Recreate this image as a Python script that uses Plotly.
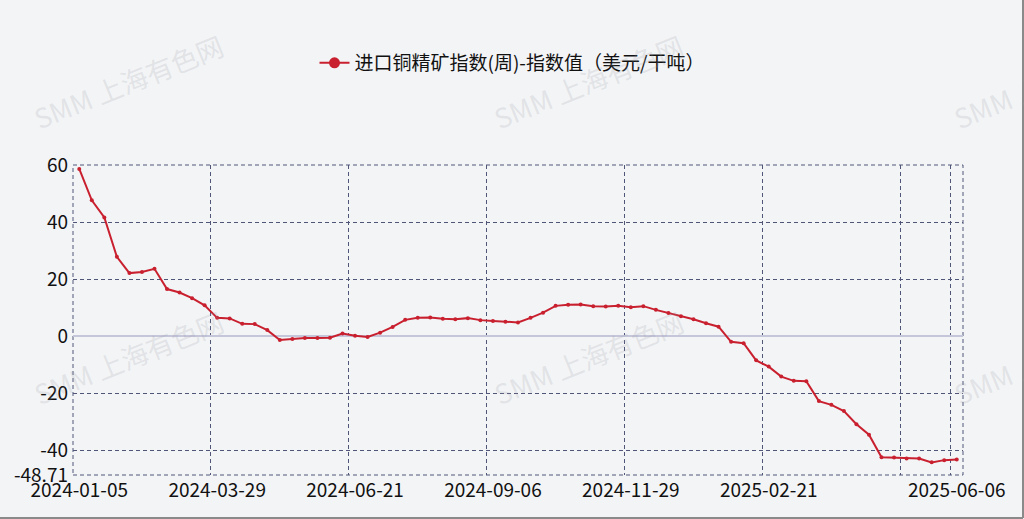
import plotly.graph_objects as go

# ---------------- data ----------------
dates = [
    "2024-01-05", "2024-01-12", "2024-01-19", "2024-01-26", "2024-02-02", "2024-02-09",
    "2024-02-23", "2024-03-01", "2024-03-08", "2024-03-15", "2024-03-22", "2024-03-29",
    "2024-04-05", "2024-04-12", "2024-04-19", "2024-04-26", "2024-05-10", "2024-05-17",
    "2024-05-24", "2024-05-31", "2024-06-07", "2024-06-14", "2024-06-21", "2024-06-28",
    "2024-07-05", "2024-07-12", "2024-07-19", "2024-07-26", "2024-08-02", "2024-08-09",
    "2024-08-16", "2024-08-23", "2024-08-30", "2024-09-06", "2024-09-13", "2024-09-20",
    "2024-09-27", "2024-10-11", "2024-10-18", "2024-10-25", "2024-11-01", "2024-11-08",
    "2024-11-15", "2024-11-22", "2024-11-29", "2024-12-06", "2024-12-13", "2024-12-20",
    "2024-12-27", "2025-01-03", "2025-01-10", "2025-01-17", "2025-01-24", "2025-02-07",
    "2025-02-14", "2025-02-21", "2025-02-28", "2025-03-07", "2025-03-14", "2025-03-21",
    "2025-03-28", "2025-04-04", "2025-04-11", "2025-04-18", "2025-04-25", "2025-05-02",
    "2025-05-09", "2025-05-16", "2025-05-23", "2025-05-30", "2025-06-06",
]
values = [
    58.6, 47.6, 41.6, 27.8, 22.1, 22.5, 23.6, 16.5, 15.3, 13.3, 10.8, 6.4,
    6.2, 4.3, 4.2, 2.1, -1.4, -1.05, -0.7, -0.7, -0.6, 0.9, 0.1, -0.3,
    1.2, 3.2, 5.7, 6.4, 6.5, 6.1, 5.9, 6.3, 5.6, 5.3, 5.0, 4.8,
    6.4, 8.2, 10.6, 11.0, 11.1, 10.5, 10.4, 10.6, 10.1, 10.5, 9.2, 8.1,
    7.0, 5.9, 4.5, 3.3, -2.0, -2.5, -8.5, -10.7, -14.2, -15.7, -15.8, -22.8,
    -24.1, -26.3, -30.9, -34.6, -42.5, -42.6, -42.9, -42.9, -44.28, -43.5, -43.3,
]
series_name = "进口铜精矿指数(周)-指数值（美元/干吨）"

x_tick_dates = ["2024-01-05", "2024-03-29", "2024-06-21", "2024-09-06",
                "2024-11-29", "2025-02-21", "2025-05-09", "2025-06-06"]
x_tick_text = ["2024-01-05", "2024-03-29", "2024-06-21", "2024-09-06",
               "2024-11-29", "2025-02-21", "", "2025-06-06"]
y_min, y_max = -48.71, 60
y_tick_vals = [-48.71, -40, -20, 0, 20, 40, 60]
y_tick_text = ["-48.71", "-40", "-20", "0", "20", "40", "60"]

watermark = "SMM 上海有色网"

# ---------------- style ----------------
W, H = 1024, 519
ML, MR, MT, MB = 73, 61, 165, 44
PW, PH = W - ML - MR, H - MT - MB
RED = "#c9202f"
GRID = "#4f5678"
BG = "#f3f4f6"
FONT = "Noto Sans CJK SC"
DASH = "4px,3px"


def px2paper(px, py):
    return (px - ML) / PW, (H - MB - py) / PH


fig = go.Figure()
fig.add_trace(go.Scatter(
    x=dates, y=values, mode="lines+markers", name=series_name,
    line=dict(color=RED, width=2), marker=dict(color=RED, size=4),
    showlegend=False, hoverinfo="x+y",
))
fig.add_trace(go.Scatter(
    x=[None], y=[None], mode="lines+markers", name=series_name,
    line=dict(color=RED, width=2), marker=dict(color=RED, size=11),
    showlegend=True,
))

annotations = []
for (cx, cy) in [(128, 82), (588, 82), (1048, 82), (128, 357), (588, 357), (1048, 357)]:
    ax, ay = px2paper(cx, cy)
    annotations.append(dict(
        x=ax, y=ay, xref="paper", yref="paper", text=watermark, showarrow=False,
        textangle=-22, font=dict(family=FONT, size=27, color="rgba(150,155,165,0.2)"),
        xanchor="center", yanchor="middle",
    ))

bx0, by0 = px2paper(0, H - 1)
bx1, by1 = px2paper(W - 1, 0)
shapes = [
    dict(type="rect", xref="x domain", yref="y domain", x0=0, x1=1, y0=0, y1=1,
         line=dict(color=GRID, width=1, dash=DASH), layer="below"),
    dict(type="line", xref="paper", yref="paper", x0=bx0, x1=bx1, y0=by0, y1=by0,
         line=dict(color="#8a8a8a", width=2)),
    dict(type="line", xref="paper", yref="paper", x0=bx1, x1=bx1, y0=by0, y1=by1,
         line=dict(color="#8a8a8a", width=2)),
]

fig.update_layout(
    width=W, height=H,
    margin=dict(l=ML, r=MR, t=MT, b=MB, autoexpand=False),
    paper_bgcolor=BG, plot_bgcolor=BG,
    font=dict(family=FONT, size=19, color="#111"),
    showlegend=True,
    legend=dict(
        orientation="h", xref="container", yref="container",
        x=0.5, xanchor="center", y=1 - 63 / H, yanchor="middle",
        font=dict(family=FONT, size=19, color="#111"),
        bgcolor="rgba(0,0,0,0)",
    ),
    xaxis=dict(
        type="category", categoryorder="array", categoryarray=dates,
        range=[-0.5, len(dates) - 0.5],
        tickmode="array", tickvals=x_tick_dates, ticktext=x_tick_text,
        tickson="boundaries", ticks="", showline=False,
        showgrid=True, gridcolor=GRID, griddash=DASH, gridwidth=1,
        zeroline=False, tickfont=dict(size=19, color="#111"),
        tickangle=0, ticklabelstandoff=2,
    ),
    yaxis=dict(
        range=[y_min, y_max], tickmode="array", tickvals=y_tick_vals,
        ticktext=y_tick_text, ticks="", showline=False,
        showgrid=True, gridcolor=GRID, griddash=DASH, gridwidth=1,
        zeroline=True, zerolinecolor="#c5c6da", zerolinewidth=1.5,
        tickfont=dict(size=19, color="#111"), ticklabelstandoff=4,
    ),
    annotations=annotations,
    shapes=shapes,
)

fig.write_html("out.html", config={"displayModeBar": False},
               post_script="document.body.style.margin='0';")
